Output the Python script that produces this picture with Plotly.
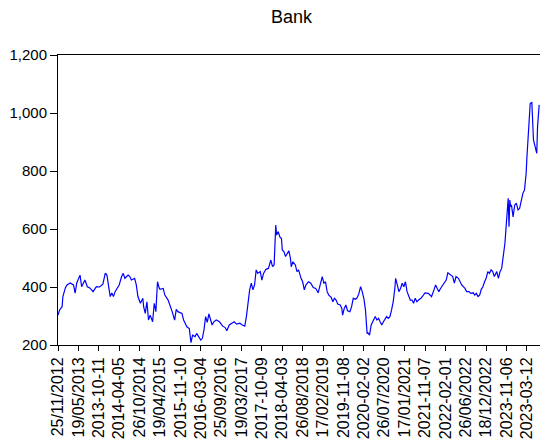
import plotly.graph_objects as go

# Weekly observations: week offset from 25/11/2012 and the Bank price series
week = [0, 2, 5, 6, 9, 11, 15, 19, 21, 23, 27, 29, 33, 36, 39, 43, 47, 51, 55, 58,
        60, 64, 66, 68, 70, 73, 75, 78, 80, 82, 86, 88, 90, 94, 96, 98, 101, 104, 105, 107,
        109, 111, 113, 116, 118, 120, 122, 124, 125, 129, 131, 135, 138, 140, 143, 145, 147, 152, 154, 158,
        161, 163, 165, 168, 170, 172, 175, 177, 179, 181, 183, 185, 187, 189, 191, 194, 198, 202, 205, 207,
        210, 213, 216, 219, 223, 226, 229, 231, 233, 235, 237, 239, 241, 243, 245, 248, 250, 252, 255, 258,
        261, 263, 265, 267, 268, 270, 272, 274, 275, 277, 279, 281, 283, 285, 286, 288, 291, 293, 295, 298,
        300, 302, 304, 307, 310, 313, 316, 319, 321, 324, 326, 328, 330, 332, 335, 337, 339, 341, 343, 346,
        348, 349, 351, 353, 355, 358, 360, 362, 365, 367, 369, 371, 373, 375, 377, 379, 380, 382, 384, 386,
        389, 391, 393, 395, 397, 399, 401, 403, 405, 407, 409, 411, 413, 414, 416, 418, 420, 422, 424, 426,
        428, 430, 432, 434, 436, 438, 440, 442, 445, 448, 450, 454, 458, 461, 463, 465, 467, 469, 472, 476,
        478, 480, 482, 484, 486, 488, 491, 493, 495, 497, 499, 501, 504, 506, 509, 511, 513, 515, 517, 519,
        521, 523, 525, 527, 529, 531, 533, 535, 538, 540, 542, 544, 546, 548, 549, 551, 552, 553, 554, 555,
        556, 558, 560, 562, 564, 566, 568, 570, 572, 574, 575, 576, 578, 579, 581, 582, 583, 585, 587, 588,
        590]
close = [303, 321, 332, 367, 397, 407, 414, 407, 379, 414, 441, 401, 424, 401, 397, 384, 401, 400, 410, 448,
         441, 367, 379, 367, 384, 397, 407, 436, 447, 430, 441, 436, 424, 430, 407, 367, 344, 361, 332, 309,
         349, 286, 303, 280, 344, 315, 418, 397, 392, 395, 372, 355, 332, 315, 286, 323, 315, 309, 286, 263,
         257, 208, 234, 229, 240, 232, 217, 223, 252, 298, 278, 307, 286, 269, 280, 286, 280, 265, 260, 249,
         269, 275, 280, 272, 275, 269, 265, 298, 355, 390, 413, 390, 407, 459, 447, 453, 424, 447, 461, 464,
         493, 470, 476, 614, 579, 591, 573, 567, 528, 522, 505, 516, 525, 499, 470, 487, 476, 453, 459, 430,
         418, 390, 407, 418, 413, 398, 395, 380, 401, 436, 413, 418, 384, 372, 364, 349, 361, 355, 341, 338,
         326, 303, 326, 338, 318, 315, 332, 361, 358, 364, 378, 401, 384, 361, 321, 240, 242, 234, 269, 280,
         298, 286, 292, 280, 269, 280, 292, 298, 292, 298, 321, 349, 395, 430, 407, 384, 395, 413, 401, 418,
         384, 372, 355, 355, 344, 361, 349, 355, 361, 372, 380, 378, 367, 390, 407, 395, 384, 395, 407, 424,
         449, 444, 441, 436, 413, 436, 430, 418, 407, 401, 395, 384, 384, 378, 380, 372, 378, 367, 372, 392,
         401, 418, 430, 453, 447, 459, 453, 436, 453, 430, 453, 464, 505, 551, 591, 666, 706, 608, 700, 677,
         683, 642, 683, 689, 666, 671, 700, 723, 734, 792, 849, 895, 964, 1033, 1036, 987, 907, 884, 861, 953,
         1028]

# Category labels shown every 25 observations
tick_labels = ["25/11/2012", "19/05/2013", "2013-10-11", "2014-04-05", "26/10/2014",
               "19/04/2015", "2015-11-10", "2016-03-04", "25/09/2016", "19/03/2017",
               "2017-10-09", "2018-04-03", "26/08/2018", "17/02/2019", "2019-11-08",
               "2020-02-02", "26/07/2020", "17/01/2021", "2021-11-07", "2022-02-01",
               "26/06/2022", "18/12/2022", "2023-11-06", "2023-03-12"]
tick_step = 25
tick_pos = [i * tick_step for i in range(len(tick_labels))]

y_ticks = [200, 400, 600, 800, 1000, 1200]

fig = go.Figure(
    go.Scatter(x=week, y=close, mode="lines",
               line=dict(color="#0000ff", width=1.2), hoverinfo="skip")
)

fig.update_layout(
    width=540, height=440,
    margin=dict(l=58, r=0, t=55, b=95),
    paper_bgcolor="white", plot_bgcolor="white",
    showlegend=False,
    font=dict(family="Liberation Sans, Arial, sans-serif", color="black"),
    title=dict(text="Bank", x=0.54, xanchor="center", y=0.962, yanchor="middle",
               font=dict(size=18, color="black")),
)

fig.update_xaxes(
    range=[0, 591], tickmode="array", tickvals=tick_pos, ticktext=tick_labels,
    tickangle=-90, tickfont=dict(size=16), ticks="outside", ticklen=5,
    tickcolor="black", showline=True, linecolor="black", linewidth=1,
    mirror=True, showgrid=False, zeroline=False,
)
fig.update_yaxes(
    range=[200, 1200], tickmode="array", tickvals=y_ticks, tickformat=",d",
    tickfont=dict(size=15), ticks="outside", ticklen=7, tickcolor="black",
    showline=True, linecolor="black", linewidth=1, mirror=False,
    showgrid=False, zeroline=False,
)

fig.write_html("out.html")
